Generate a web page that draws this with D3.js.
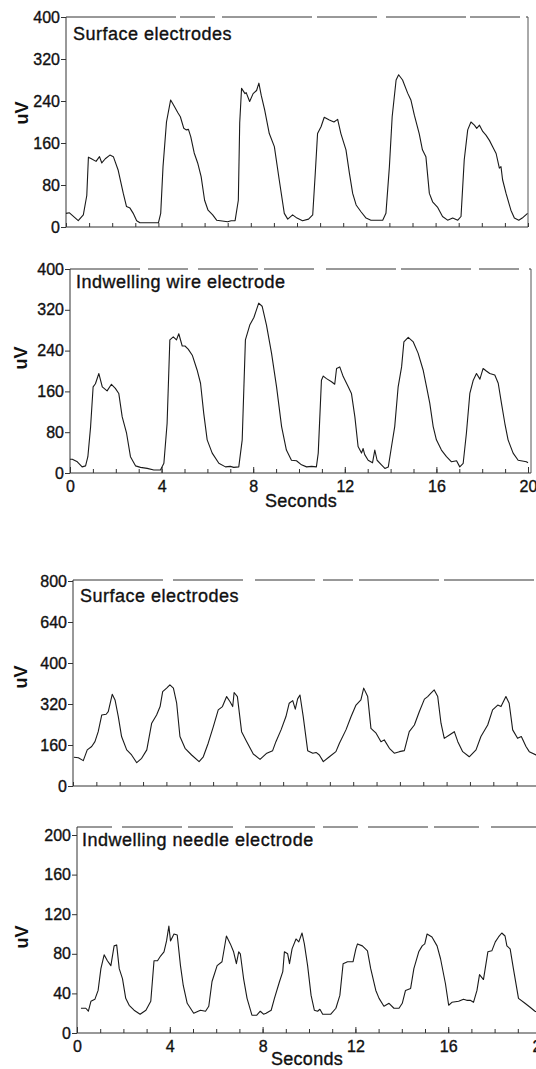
<!DOCTYPE html>
<html><head><meta charset="utf-8">
<script src="https://cdn.jsdelivr.net/npm/d3@7"></script>
<style>body{margin:0;background:#fff}svg{display:block}</style>
</head><body>
<svg id="c" width="536" height="1069"></svg>
<script>
// ---------- data ----------
const panelTitles = ["Surface electrodes", "Indwelling wire electrode", "Surface electrodes", "Indwelling needle electrode"];
const yTicksA = [0, 80, 160, 240, 320, 400];
const yTicksC = [0, 160, 320, 480, 640, 800];
const yTickLabelsC = ["0", "160", "320", "400", "640", "800"];
const yTicksD = [0, 40, 80, 120, 160, 200];
const xTickLabels = [0, 4, 8, 12, 16, 20];
const xMinorTicks = d3.range(0, 21);

const surfaceA = [[0,26],[0.15,27],[0.53,12],[0.75,23],[0.9,60],[0.97,133],[1.1,130],[1.3,125],[1.45,134],[1.55,122],[1.7,130],[1.9,137],[2.05,134],[2.26,108],[2.48,64],[2.62,39],[2.77,36],[2.91,26],[3.06,12],[3.2,8],[4.0,8],[4.1,26],[4.2,115],[4.35,200],[4.53,242],[4.65,233],[4.85,217],[4.95,210],[5.1,188],[5.2,185],[5.3,186],[5.4,172],[5.55,141],[5.7,122],[5.85,96],[6.0,51],[6.15,32],[6.35,23],[6.52,13],[7.0,10],[7.15,12],[7.32,12],[7.46,51],[7.52,198],[7.6,264],[7.75,254],[7.8,256],[7.95,239],[8.1,254],[8.25,260],[8.35,274],[8.45,251],[8.6,223],[8.8,178],[9.02,153],[9.23,90],[9.45,26],[9.6,15],[9.81,23],[10.0,17],[10.24,12],[10.5,15],[10.68,23],[10.79,102],[10.89,178],[11.04,191],[11.18,209],[11.4,204],[11.6,200],[11.76,205],[11.9,178],[12.12,147],[12.27,102],[12.41,64],[12.56,42],[12.77,29],[12.99,17],[13.2,13],[13.71,13],[13.85,26],[14.0,115],[14.12,210],[14.29,280],[14.4,290],[14.57,280],[14.79,255],[14.93,242],[15.08,213],[15.29,178],[15.43,147],[15.58,134],[15.73,64],[15.87,48],[16.08,38],[16.3,20],[16.52,13],[16.74,17],[16.96,13],[17.1,20],[17.24,128],[17.39,185],[17.53,200],[17.68,194],[17.78,188],[17.9,194],[18.04,182],[18.18,175],[18.33,165],[18.47,153],[18.62,140],[18.76,112],[18.83,115],[18.9,90],[19.05,64],[19.26,32],[19.41,17],[19.6,13],[19.75,17],[19.98,26]];

const wireA = [[0,27],[0.1,27],[0.32,22],[0.53,12],[0.68,14],[0.78,32],[0.9,91],[1.01,169],[1.11,175],[1.26,195],[1.41,169],[1.62,161],[1.81,174],[1.98,166],[2.13,156],[2.28,110],[2.47,78],[2.64,32],[2.86,14],[3.08,11],[3.37,9],[3.66,6],[3.95,6],[4.1,19],[4.24,97],[4.36,261],[4.51,267],[4.65,261],[4.75,273],[4.9,249],[5.02,249],[5.16,243],[5.34,231],[5.55,202],[5.7,176],[5.84,117],[5.99,65],[6.21,39],[6.5,19],[6.79,12],[7.0,13],[7.15,11],[7.37,12],[7.52,65],[7.66,261],[7.85,290],[8.03,305],[8.24,333],[8.39,327],[8.58,290],[8.8,235],[9.02,169],[9.24,91],[9.45,45],[9.67,25],[9.89,24],[10.11,16],[10.33,12],[10.55,13],[10.76,12],[10.84,39],[10.98,182],[11.06,190],[11.2,185],[11.42,179],[11.56,174],[11.64,205],[11.78,208],[11.93,189],[12.15,169],[12.29,156],[12.44,110],[12.58,52],[12.73,39],[12.8,48],[12.87,36],[13.02,25],[13.21,20],[13.31,45],[13.41,25],[13.6,16],[13.75,9],[13.9,12],[14.04,52],[14.18,91],[14.33,169],[14.48,208],[14.58,257],[14.77,266],[14.99,257],[15.2,235],[15.42,202],[15.57,169],[15.71,137],[15.86,91],[16.0,65],[16.22,45],[16.44,32],[16.66,22],[16.88,24],[17.02,12],[17.17,19],[17.31,78],[17.46,156],[17.61,182],[17.75,195],[17.9,184],[18.04,205],[18.18,200],[18.33,195],[18.55,192],[18.7,176],[18.84,137],[18.99,97],[19.13,65],[19.35,39],[19.57,25],[19.93,22],[20,20]];

const surfaceB = [[0.04,112],[0.23,110],[0.44,99],[0.61,141],[0.8,154],[0.94,173],[1.08,212],[1.23,277],[1.42,280],[1.51,290],[1.68,358],[1.8,336],[1.94,271],[2.08,193],[2.3,141],[2.51,121],[2.73,91],[2.94,108],[3.16,141],[3.37,245],[3.58,277],[3.73,310],[3.84,368],[4.01,382],[4.15,395],[4.3,382],[4.44,323],[4.58,193],[4.8,147],[5.08,121],[5.4,95],[5.58,114],[5.79,167],[6.01,232],[6.22,297],[6.4,310],[6.58,349],[6.72,330],[6.84,310],[6.9,365],[7.04,349],[7.22,212],[7.44,173],[7.72,125],[8.01,104],[8.3,128],[8.55,138],[8.69,173],[8.91,219],[9.12,271],[9.26,323],[9.41,333],[9.52,300],[9.62,340],[9.72,355],[9.86,271],[10.05,138],[10.27,128],[10.41,131],[10.55,121],[10.72,95],[10.98,114],[11.26,134],[11.41,167],[11.69,219],[11.91,271],[12.12,316],[12.33,336],[12.45,382],[12.62,349],[12.76,225],[12.98,206],[13.19,173],[13.33,180],[13.55,147],[13.76,128],[13.98,134],[14.19,138],[14.4,212],[14.62,238],[14.83,290],[15.05,339],[15.19,349],[15.33,362],[15.47,375],[15.62,349],[15.76,245],[15.9,186],[16.12,199],[16.33,212],[16.48,173],[16.69,134],[16.97,114],[17.26,141],[17.47,193],[17.76,238],[17.97,297],[18.19,316],[18.33,310],[18.54,349],[18.68,323],[18.83,219],[19.04,186],[19.2,193],[19.4,154],[19.54,134],[19.83,121],[20,118]];

const needleB = [[0.17,25],[0.38,25],[0.49,22],[0.6,32],[0.77,34],[0.91,43],[1.03,65],[1.17,79],[1.31,73],[1.46,68],[1.6,88],[1.71,89],[1.82,65],[1.96,55],[2.1,35],[2.25,28],[2.46,23],[2.72,19],[2.97,23],[3.18,32],[3.32,73],[3.47,73],[3.61,78],[3.75,82],[3.86,93],[3.96,108],[4.03,93],[4.18,100],[4.32,99],[4.46,68],[4.58,48],[4.75,30],[5.03,20],[5.32,23],[5.54,22],[5.68,27],[5.82,52],[6.04,68],[6.25,72],[6.44,98],[6.61,90],[6.75,82],[6.87,70],[6.97,82],[7.04,80],[7.18,55],[7.33,35],[7.54,18],[7.75,18],[7.9,22],[8.04,19],[8.15,20],[8.37,23],[8.51,35],[8.73,52],[8.87,62],[8.94,82],[9.08,80],[9.16,70],[9.27,85],[9.44,95],[9.56,92],[9.7,101],[9.8,90],[9.94,68],[10.09,38],[10.23,23],[10.37,22],[10.47,24],[10.59,19],[10.94,19],[11.16,25],[11.33,38],[11.47,70],[11.66,72],[11.9,72],[12.02,85],[12.09,90],[12.3,88],[12.52,83],[12.66,65],[12.88,43],[13.02,35],[13.23,27],[13.45,30],[13.66,25],[13.88,25],[14.02,30],[14.16,43],[14.38,45],[14.52,65],[14.73,82],[14.88,88],[14.99,90],[15.09,100],[15.3,97],[15.52,88],[15.67,75],[15.88,50],[16.02,28],[16.16,31],[16.45,32],[16.66,34],[16.8,33],[16.95,33],[17.09,31],[17.24,43],[17.35,59],[17.52,54],[17.71,82],[17.88,83],[18.03,92],[18.17,97],[18.31,101],[18.45,98],[18.53,88],[18.67,85],[18.81,65],[19.03,35],[19.31,30],[19.53,26],[19.74,22],[20,20]];

// ---------- layout ----------
const FONT = "'Liberation Sans', Arial, Helvetica, sans-serif";
const svg = d3.select("#c");

const panels = [
  {data: surfaceA, title: panelTitles[0], ymax: 400, ticks: yTicksA, labels: yTicksA.map(String),
   x0: 66, x1: 528, top: 17, bottom: 227, boxTop: 17, boxRight: 528, showRight: true, xlabels: false,
   titleX: 73, titleY: 40, uvY: 113, uvX: 22, dash: "110,4,35,7,90,5,60,9,80,4,50,6"},
  {data: wireA, title: panelTitles[1], ymax: 400, ticks: yTicksA, labels: yTicksA.map(String),
   x0: 70, x1: 528, top: 269, bottom: 473, boxTop: 269, boxRight: 531, showRight: true, xlabels: true,
   titleX: 76, titleY: 288, uvY: 358, uvX: 21, secX: 301, secY: 507, dash: "70,8,40,10,60,6,50,12,70,5"},
  {data: surfaceB, title: panelTitles[2], ymax: 800, ticks: yTicksC, labels: yTickLabelsC,
   x0: 73, x1: 540, top: 581, bottom: 786, boxTop: 580, boxRight: 540, showRight: false, xlabels: false,
   titleX: 80, titleY: 602, uvY: 677, uvX: 21, dash: "90,10,70,12,60,8,30,6,80,5"},
  {data: needleB, title: panelTitles[3], ymax: 200, ticks: yTicksD, labels: yTicksD.map(String),
   x0: 77, x1: 541, top: 835, bottom: 1033, boxTop: 827, boxRight: 541, showRight: false, xlabels: true,
   titleX: 82, titleY: 846, uvY: 937, uvX: 22, secX: 307, secY: 1065, dash: "35,10,60,6,45,12,70,8"}
];

function heavy(sel) {
  return sel.attr("fill", "#111").attr("stroke", "#111").attr("stroke-width", 0.35);
}

panels.forEach(p => {
  const x = d3.scaleLinear().domain([0, 20]).range([p.x0, p.x1]);
  const y = d3.scaleLinear().domain([0, p.ymax]).range([p.bottom, p.top]);
  const g = svg.append("g");

  // frame: top and right
  g.append("line").attr("x1", p.x0).attr("x2", p.boxRight).attr("y1", p.boxTop).attr("y2", p.boxTop)
    .attr("stroke", "#333").attr("stroke-width", 1).attr("stroke-dasharray", p.dash);
  if (p.showRight) {
    g.append("line").attr("x1", p.boxRight).attr("x2", p.boxRight).attr("y1", p.boxTop).attr("y2", p.bottom)
      .attr("stroke", "#555").attr("stroke-width", 1);
  }

  // left axis
  const ya = d3.axisLeft(y).tickValues(p.ticks).tickFormat((d, i) => p.labels[i])
    .tickSize(5).tickSizeOuter(0).tickPadding(1);
  const yg = g.append("g").attr("transform", `translate(${p.x0},0)`).call(ya);
  yg.select(".domain").attr("d", `M0,${p.boxTop}V${p.bottom}`).attr("stroke", "#333");
  yg.selectAll("line").attr("stroke", "#333");
  heavy(yg.selectAll("text").attr("font-family", FONT).attr("font-size", 16));

  // bottom axis: minor ticks
  const xm = d3.axisBottom(x).tickValues(xMinorTicks).tickFormat("").tickSize(-4).tickSizeOuter(0);
  const xg = g.append("g").attr("transform", `translate(0,${p.bottom})`).call(xm);
  xg.select(".domain").attr("d", `M${p.x0},0H${Math.min(p.boxRight, 536)}`).attr("stroke", "#333");
  xg.selectAll("line").attr("stroke", "#333");

  if (p.xlabels) {
    const xa = d3.axisBottom(x).tickValues(xTickLabels).tickFormat(d3.format("d")).tickSize(-6).tickSizeOuter(0).tickPadding(8);
    const xl = g.append("g").attr("transform", `translate(0,${p.bottom})`).call(xa);
    xl.select(".domain").remove();
    xl.selectAll("line").attr("stroke", "#333");
    heavy(xl.selectAll("text").attr("font-family", FONT).attr("font-size", 16));
    heavy(g.append("text").attr("x", p.secX).attr("y", p.secY).attr("text-anchor", "middle")
      .attr("font-family", FONT).attr("font-size", 18).attr("letter-spacing", 0.3)).text("Seconds");
  }

  // title
  heavy(g.append("text").attr("x", p.titleX).attr("y", p.titleY)
    .attr("font-family", FONT).attr("font-size", 18).attr("letter-spacing", 0.5)).text(p.title);

  // y label
  g.append("text").attr("transform", `translate(${p.uvX + 6},${p.uvY}) rotate(-90)`)
    .attr("text-anchor", "middle").attr("font-family", FONT).attr("font-size", 18).attr("font-weight", "bold")
    .attr("fill", "#111").text("uV");

  // trace
  const line = d3.line().x(d => x(d[0])).y(d => y(d[1]));
  g.append("path").datum(p.data).attr("d", line).attr("fill", "none")
    .attr("stroke", "#1a1a1a").attr("stroke-width", 1.1).attr("stroke-linejoin", "round");
});
</script>
</body></html>
